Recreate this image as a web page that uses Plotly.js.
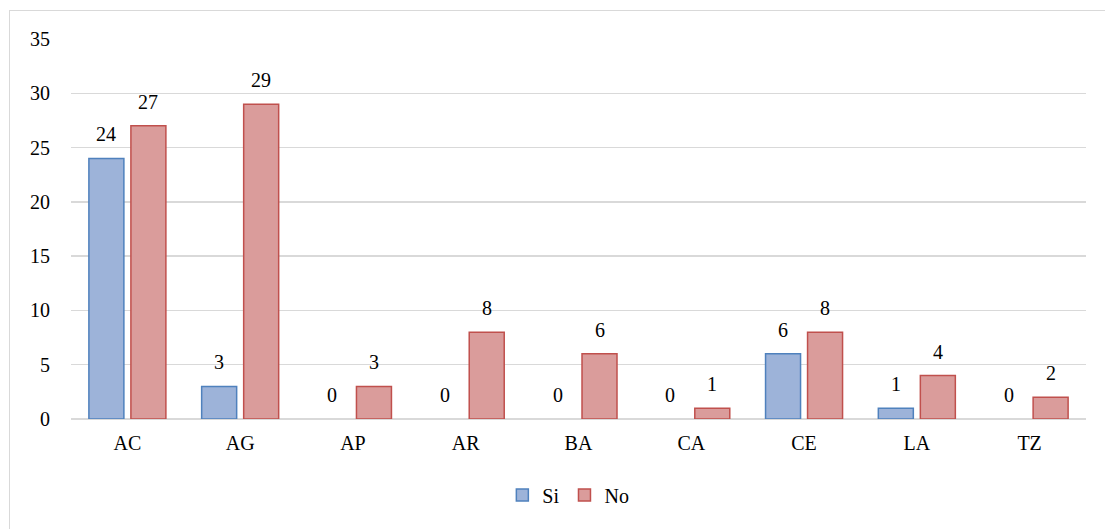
<!DOCTYPE html>
<html><head><meta charset="utf-8">
<script src="https://cdn.plot.ly/plotly-3.0.1.min.js"></script>
<style>
html,body{margin:0;padding:0;background:#fff;}
#wrap{position:relative;width:1105px;height:529px;overflow:hidden;}
#chart{width:1105px;height:529px;}
#frame{position:absolute;left:9px;top:10px;width:1200px;height:600px;border:1px solid #D9D9D9;pointer-events:none;}
</style></head>
<body>
<div id="wrap"><div id="chart"></div><div id="frame"></div></div>
<script>
const categories = ["AC","AG","AP","AR","BA","CA","CE","LA","TZ"];
const si = [24,3,0,0,0,0,6,1,0];
const no = [27,29,3,8,6,1,8,4,2];
const yTicks = [0,5,10,15,20,25,30,35];

const font = {family:"Liberation Serif", size:20, color:"#000"};

const traces = [
  {type:"bar", name:"Si", x:categories, y:si,
   marker:{color:"#9DB3D9", line:{color:"#4F81BD", width:si.map(v => v ? 1.5 : 0)}}},
  {type:"bar", name:"No", x:categories, y:no,
   marker:{color:"#DA9C9B", line:{color:"#C0504D", width:no.map(v => v ? 1.5 : 0)}}}
];

const annotations = [];
categories.forEach((c, i) => {
  annotations.push({x:c, y:si[i], text:String(si[i]), showarrow:false, xref:"x", yref:"y",
    xshift:-21, yshift:11, yanchor:"bottom", font:font});
  annotations.push({x:c, y:no[i], text:String(no[i]), showarrow:false, xref:"x", yref:"y",
    xshift:21, yshift:11, yanchor:"bottom", font:font});
});

const layout = {
  width:1105, height:529,
  margin:{l:71, r:19, t:39, b:110, autoexpand:false},
  paper_bgcolor:"#fff", plot_bgcolor:"#fff",
  font:font,
  barmode:"group", bargap:0.255, bargroupgap:0.167,
  showlegend:true,
  legend:{orientation:"h", x:0.49, xanchor:"center", y:-0.2, yanchor:"middle", font:font,
          itemwidth:30, tracegroupgap:0},
  annotations:annotations,
  xaxis:{type:"category", showgrid:false, zeroline:false, showline:false, ticks:"", tickfont:font, ticklabelstandoff:10, automargin:false},
  yaxis:{range:[0,35], tickvals:yTicks, showgrid:true, gridcolor:"#D9D9D9", gridwidth:1.3,
         zeroline:true, zerolinecolor:"#D9D9D9", zerolinewidth:1.3, showline:false, ticks:"",
         tickfont:font, ticklabelstandoff:20, automargin:false}
};

Plotly.newPlot("chart", traces, layout, {displayModeBar:false, staticPlot:true});
</script>
</body></html>
